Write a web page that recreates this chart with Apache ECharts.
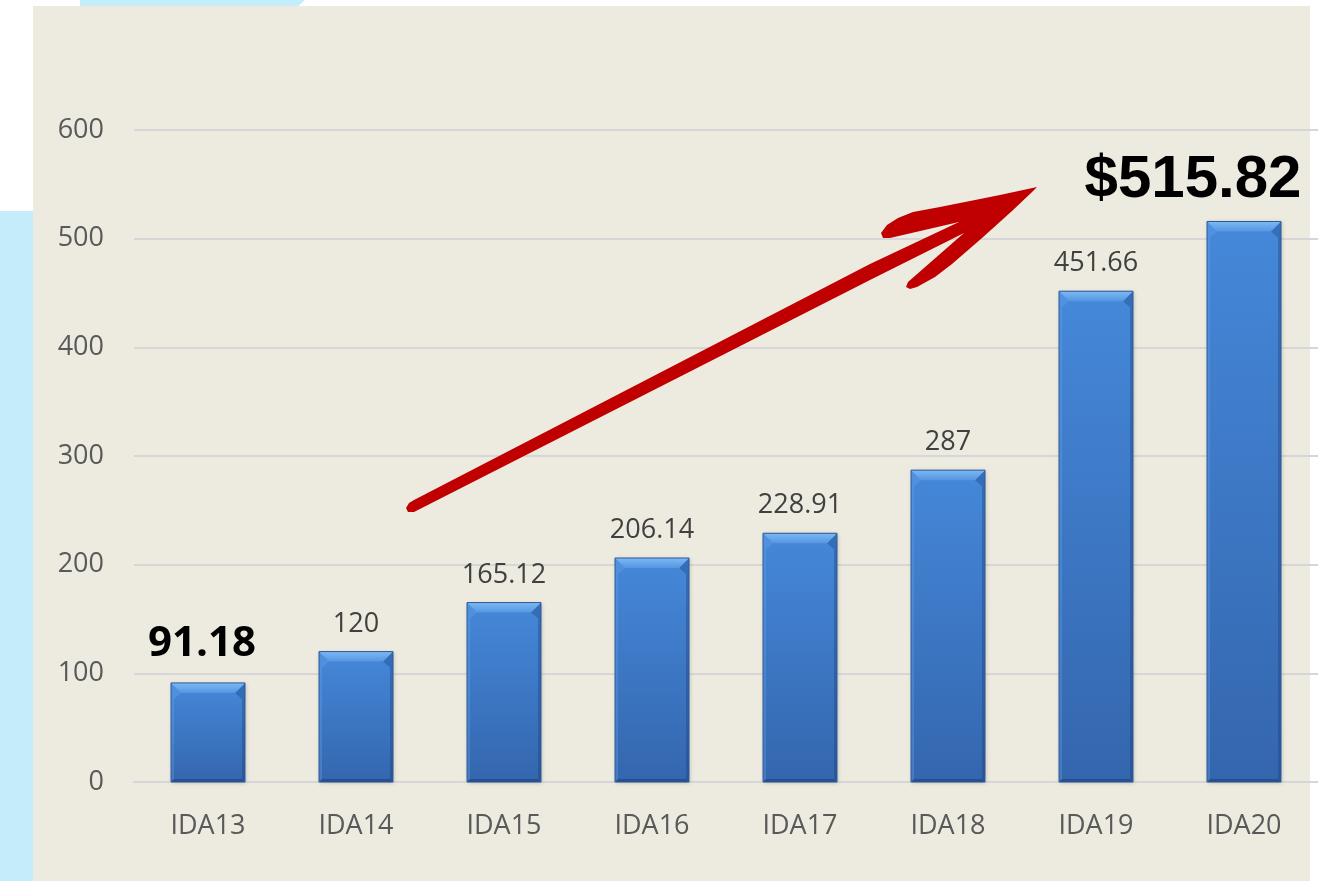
<!DOCTYPE html>
<html>
<head>
<meta charset="utf-8">
<script src="https://cdn.jsdelivr.net/npm/echarts@6/dist/echarts.min.js"></script>
<style>
  html, body { margin: 0; padding: 0; background: #ffffff; }
  #wrap { position: relative; width: 1318px; height: 881px; overflow: hidden; }
  #blueTop { position: absolute; left: 80px; top: 0; width: 225px; height: 8px; background: #c5ecfb;
             clip-path: polygon(0 0, 100% 0, 96% 100%, 0 100%); }
  #blueLeft { position: absolute; left: 0; top: 211px; width: 40px; height: 670px; background: #c5ecfb; }
  #panel { position: absolute; left: 33px; top: 6px; width: 1277px; height: 875px; background: #edeae0; }
  #chart { position: absolute; left: 0; top: 0; width: 1318px; height: 881px; }
</style>
</head>
<body>
<div id="wrap">
  <div id="blueTop"></div>
  <div id="blueLeft"></div>
  <div id="panel"></div>
  <div id="chart"></div>
</div>
<script>
const categories = ['IDA13', 'IDA14', 'IDA15', 'IDA16', 'IDA17', 'IDA18', 'IDA19', 'IDA20'];
const values = [91.18, 120, 165.12, 206.14, 228.91, 287, 451.66, 515.82];
const valueLabels = ['91.18', '120', '165.12', '206.14', '228.91', '287', '451.66', '$515.82'];
const yMin = 0, yMax = 600, yStep = 100;

const chart = echarts.init(document.getElementById('chart'), null, { renderer: 'canvas' });

const FONT = '"Open Sans", "Noto Sans", sans-serif';

const barData = values.map(function (v, i) {
  const item = { value: v };
  if (i === 0) {
    item.label = { fontSize: 42, fontWeight: 'bold', color: '#000000', distance: 18, offset: [-6, 0], fontFamily: FONT };
  } else if (i === values.length - 1) {
    item.label = { fontSize: 60, fontWeight: 'bold', color: '#000000', distance: 11, offset: [-51, 0],
                   fontFamily: '"Liberation Sans", Arial, sans-serif' };
  }
  return item;
});

function renderBevel(params, api) {
  const idx = api.value(0);
  const v = api.value(1);
  const top = api.coord([idx, v]);
  const base = api.coord([idx, 0]);
  const w = api.size([1, 0])[0] * 0.5;
  const x0 = top[0] - w / 2, x1 = top[0] + w / 2;
  const y0 = top[1], y1 = base[1];
  const b = 10, s = 3;
  return {
    type: 'group',
    children: [
      { type: 'polygon', shape: { points: [[x0, y0], [x0 + b, y0 + b], [x0 + s, y0 + b + 6], [x0 + s, y1 - s], [x0, y1]] },
        style: { fill: 'rgba(110,170,240,0.3)' } },
      { type: 'polygon', shape: { points: [[x1, y0], [x1 - b, y0 + b], [x1 - s, y0 + b + 6], [x1 - s, y1 - s], [x1, y1]] },
        style: { fill: 'rgba(20,50,110,0.3)' } },
      { type: 'polygon', shape: { points: [[x0, y1], [x0 + s, y1 - s], [x1 - s, y1 - s], [x1, y1]] },
        style: { fill: 'rgba(20,50,110,0.45)' } },
      { type: 'polygon', shape: { points: [[x0, y0], [x1, y0], [x1 - b, y0 + b], [x0 + b, y0 + b]] },
        style: { fill: new echarts.graphic.LinearGradient(0, 0, 0, 1, [
          { offset: 0, color: '#7db9f4' }, { offset: 1, color: '#5596e2' }]) } },
      { type: 'rect', shape: { x: x0, y: y0, width: x1 - x0, height: y1 - y0 },
        style: { fill: 'none', stroke: '#2d5a95', lineWidth: 1 } }
    ]
  };
}

const option = {
  animation: false,
  backgroundColor: 'transparent',
  grid: { left: 134, right: 0, top: 130, bottom: 99, containLabel: false },
  xAxis: {
    type: 'category',
    data: categories,
    axisLine: { show: true, lineStyle: { color: '#d6d6d8', width: 2 } },
    axisTick: { show: false },
    axisLabel: { color: '#595959', fontSize: 27, fontFamily: FONT, margin: 31 },
    z: 1
  },
  yAxis: {
    type: 'value',
    min: yMin, max: yMax, interval: yStep,
    axisLine: { show: false },
    axisTick: { show: false },
    axisLabel: { color: '#595959', fontSize: 27, fontFamily: FONT, margin: 30 },
    splitLine: { lineStyle: { color: '#d6d6d8', width: 2 } }
  },
  series: [
    {
      type: 'bar',
      data: barData,
      barWidth: '50%',
      itemStyle: {
        color: new echarts.graphic.LinearGradient(0, 0, 0, 1, [
          { offset: 0, color: '#4588d9' },
          { offset: 1, color: '#3466ae' }
        ]),
        shadowColor: 'rgba(0,0,0,0.18)', shadowBlur: 4, shadowOffsetX: 1, shadowOffsetY: 1
      },
      label: {
        show: true,
        position: 'top',
        distance: 14,
        color: '#404040',
        fontSize: 27,
        fontFamily: FONT,
        formatter: function (p) { return valueLabels[p.dataIndex]; }
      },
      z: 2
    },
    {
      type: 'custom',
      renderItem: renderBevel,
      data: values.map(function (v, i) { return [i, v]; }),
      silent: true,
      z: 3
    }
  ],
  graphic: [
    {
      type: 'polygon',
      z: 100,
      shape: {
        points: [
          [1037, 187], [1000, 195], [970, 201], [940, 207], [913, 212], [898, 218], [887, 225], [881, 233], [883, 238], [890, 238],
          [959, 222],
          [870, 264], [414, 500], [409, 503], [406, 508], [408, 512], [414, 512],
          [870, 280],
          [964, 233],
          [908, 282], [906, 287], [910, 289], [917, 287],
          [935, 277], [952, 264], [982, 238], [1012, 211], [1031, 193]
        ]
      },
      style: { fill: '#c00000' }
    }
  ]
};

chart.setOption(option);
</script>
</body>
</html>
